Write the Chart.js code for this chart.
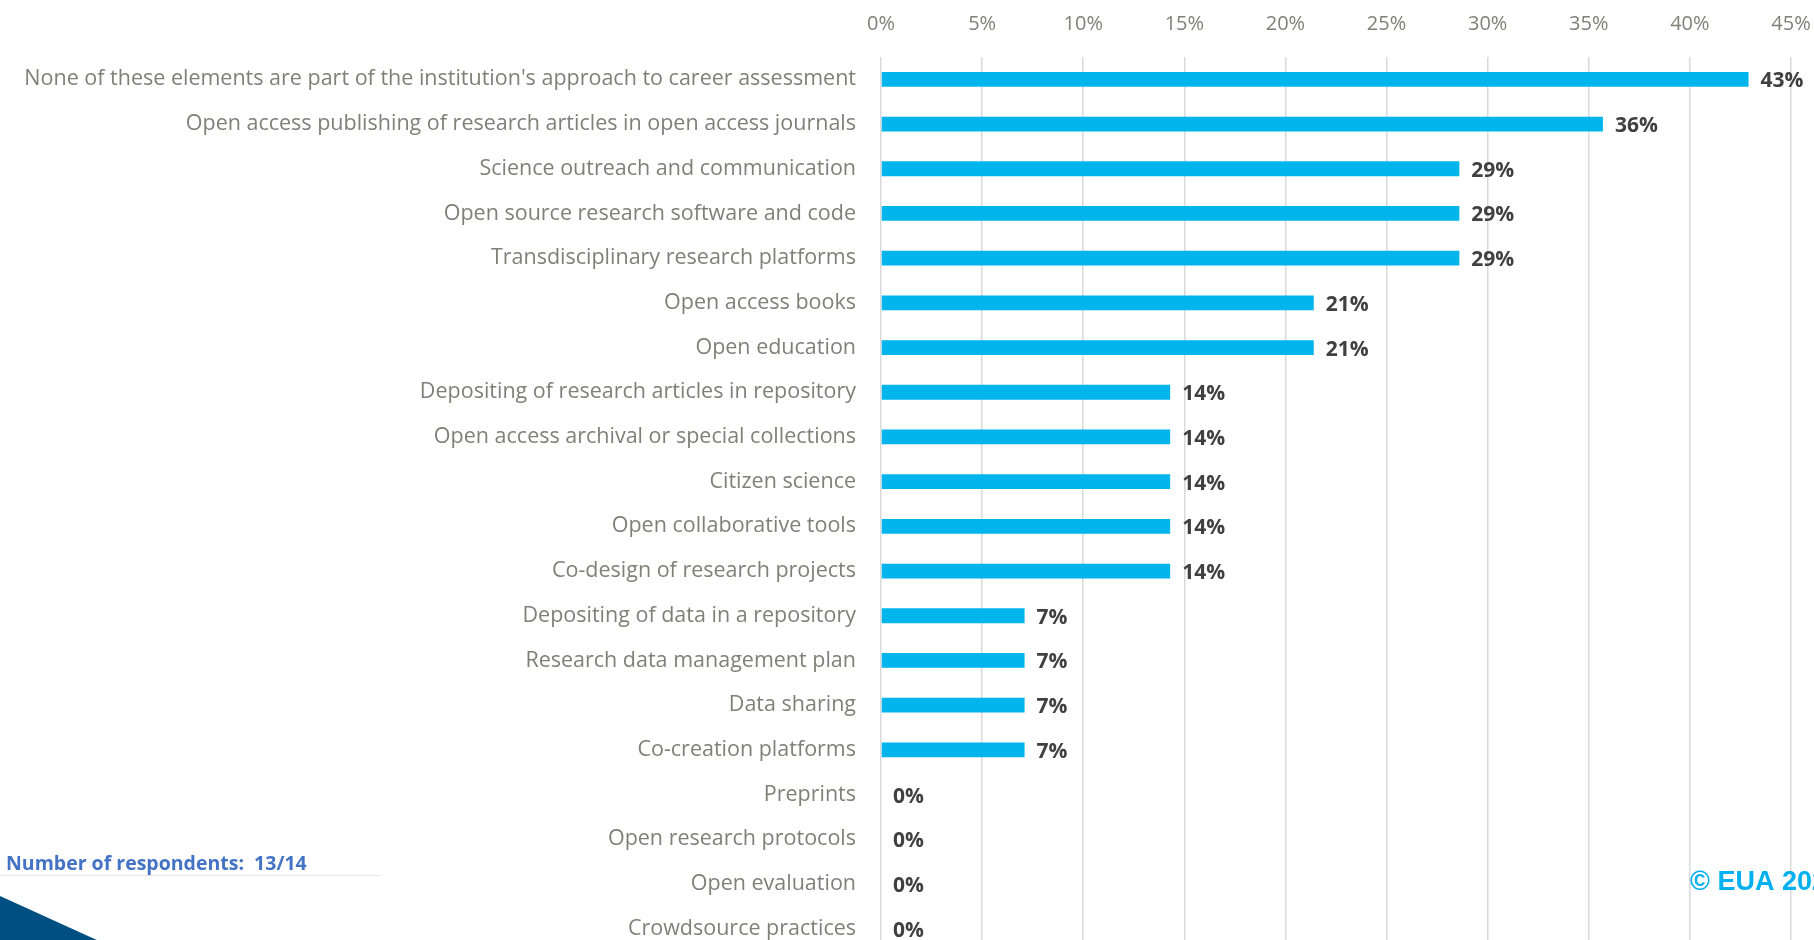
<!DOCTYPE html>
<html>
<head>
<meta charset="utf-8">
<script src="https://cdn.jsdelivr.net/npm/chart.js@4.4.0/dist/chart.umd.min.js"></script>
<style>
  html, body { margin: 0; padding: 0; background: #fff; overflow: hidden; }
  .wrap { position: relative; width: 1814px; height: 951px; }
</style>
</head>
<body>
<div class="wrap"><canvas class="main-canvas" width="1814" height="951"></canvas></div>
<script>
const categories = [
  "None of these elements are part of the institution's approach to career assessment",
  "Open access publishing of research articles in open access journals",
  "Science outreach and communication",
  "Open source research software and code",
  "Transdisciplinary research platforms",
  "Open access books",
  "Open education",
  "Depositing of research articles in repository",
  "Open access archival or special collections",
  "Citizen science",
  "Open collaborative tools",
  "Co-design of research projects",
  "Depositing of data in a repository",
  "Research data management plan",
  "Data sharing",
  "Co-creation platforms",
  "Preprints",
  "Open research protocols",
  "Open evaluation",
  "Crowdsource practices"
];
const shares = [42.9, 35.7, 28.6, 28.6, 28.6, 21.4, 21.4, 14.3, 14.3, 14.3, 14.3, 14.3, 7.1, 7.1, 7.1, 7.1, 0, 0, 0, 0];
const xTicks = [0, 5, 10, 15, 20, 25, 30, 35, 40, 45];

const valueLabels = {
  id: "valueLabels",
  afterDatasetsDraw(chart) {
    const { ctx } = chart;
    const meta = chart.getDatasetMeta(0);
    ctx.save();
    ctx.font = "bold 21px 'Open Sans', sans-serif";
    ctx.fillStyle = "#404040";
    ctx.textAlign = "left";
    ctx.textBaseline = "middle";
    meta.data.forEach((bar, i) => {
      ctx.fillText(Math.round(shares[i]) + "%", bar.x + 12, bar.y + 2);
    });
    ctx.restore();
  }
};

const extras = {
  id: "extras",
  afterDraw(chart) {
    const { ctx } = chart;
    ctx.save();
    // footer note
    ctx.font = "bold 19.5px 'Open Sans', sans-serif";
    ctx.fillStyle = "#4472C4";
    ctx.textBaseline = "middle";
    ctx.fillText("Number of respondents:  13/14", 6, 864);
    ctx.strokeStyle = "#e6e6e6";
    ctx.lineWidth = 1;
    ctx.beginPath();
    ctx.moveTo(0, 875.5);
    ctx.lineTo(380, 875.5);
    ctx.stroke();
    // corner triangle
    ctx.fillStyle = "#004F83";
    ctx.beginPath();
    ctx.moveTo(0, 896);
    ctx.lineTo(121, 951);
    ctx.lineTo(0, 951);
    ctx.closePath();
    ctx.fill();
    // copyright
    ctx.font = "bold 27px 'Liberation Sans', Arial, sans-serif";
    ctx.fillStyle = "#00B0F0";
    ctx.textBaseline = "alphabetic";
    ctx.fillText("\u00A9 EUA 2023", 1690, 890);
    ctx.restore();
  }
};

const ctx = document.querySelector(".main-canvas").getContext("2d");

new Chart(ctx, {
  type: "bar",
  data: {
    labels: categories,
    datasets: [
      {
        data: shares,
        backgroundColor: "#00B5EC",
        borderWidth: 0,
        categoryPercentage: 1,
        barPercentage: 0.33,
      },
    ],
  },
  options: {
    indexAxis: "y",
    responsive: false,
    animation: false,
    layout: { padding: { left: 0, right: 23, top: 0, bottom: 0 } },
    plugins: {
      legend: { display: false },
      tooltip: { enabled: false },
    },
    scales: {
      x: {
        position: "top",
        min: 0,
        max: 45,
        afterBuildTicks(scale) {
          scale.ticks = xTicks.map(v => ({ value: v }));
        },
        afterFit(scale) {
          scale.height = 57;
          scale.paddingLeft = 0;
          scale.paddingRight = 0;
        },
        ticks: {
          color: "#808078",
          padding: 21,
          autoSkip: false,
          maxRotation: 0,
          font: { size: 20, family: "'Open Sans', sans-serif" },
          callback: function (value) {
            return value + "%";
          },
        },
        grid: {
          color: "#d9d9d9",
          lineWidth: 1.5,
          drawTicks: false,
        },
        border: { display: false },
      },
      y: {
        afterFit(scale) {
          scale.width = 881;
          scale.paddingTop = 0;
          scale.paddingBottom = 0;
        },
        ticks: {
          color: "#808078",
          padding: 25,
          autoSkip: false,
          font: { size: 21.5, family: "'Open Sans', sans-serif" },
        },
        grid: { display: false, drawTicks: false },
        border: { display: false },
      },
    },
  },
  plugins: [valueLabels, extras],
});
</script>
</body>
</html>
